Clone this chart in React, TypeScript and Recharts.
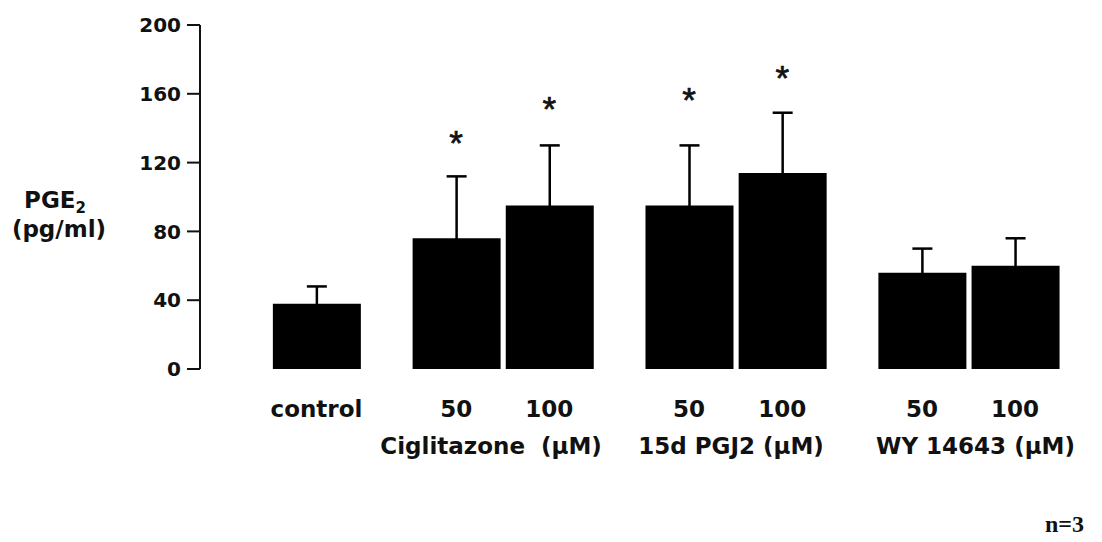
import { ComposedChart, Bar, XAxis, YAxis, ErrorBar, Scatter, Label } from "recharts";

// treatment columns, left to right
const labels = ["control", "50", "100", "50", "100", "50", "100"];
const slots = [0, 3, 5, 8, 10, 13, 15];
const means = [38, 76, 95, 95, 114, 56, 60];
const sds = [10, 36, 35, 35, 35, 14, 16];

// drug group captions under the dose labels
const groups = ["Ciglitazone  (µM)", "15d PGJ2 (µM)", "WY 14643 (µM)"];
const groupSlots = [3.75, 8.9, 14.15];

// significance asterisks (slot, height in pg/ml)
const starSlots = [3, 5, 8, 10];
const starHeights = [136, 156, 161, 174];

const yTicks = [0, 40, 80, 120, 160, 200];

// only the upper whisker shows; the lower end stays tucked inside the black bar
const data = slots.map((pos, i) => ({
  pos,
  label: labels[i],
  mean: means[i],
  err: [2, sds[i]],
}));

const stars = starSlots.map((pos, i) => ({ pos, h: starHeights[i] }));

const FONT = "'DejaVu Sans', Arial, sans-serif";

function DoseTick({ x, y, payload }: any) {
  const i = slots.indexOf(payload.value);
  return (
    <text x={x} y={y + 48} textAnchor="middle" fontFamily={FONT} fontWeight="bold" fontSize={23} fill="#111">
      {labels[i]}
    </text>
  );
}

function GroupTick({ x, y, payload }: any) {
  const i = groupSlots.indexOf(payload.value);
  return (
    <text x={x} y={y + 25} textAnchor="middle" fontFamily={FONT} fontWeight="bold" fontSize={23} fill="#111"
      style={{ whiteSpace: "pre" }}>
      {groups[i]}
    </text>
  );
}

function YTitle({ viewBox }: any) {
  const cx = viewBox.x + 59;
  return (
    <text x={cx} textAnchor="middle" fontFamily={FONT} fontWeight="bold" fontSize={23} fill="#111">
      <tspan x={cx - 4} y={208}>PGE</tspan>
      <tspan fontSize={15} dy={5}>2</tspan>
      <tspan x={cx} y={237}>(pg/ml)</tspan>
    </text>
  );
}

function Star({ cx, cy }: any) {
  return (
    <text x={cx} y={cy + 20} textAnchor="middle" fontFamily="'Liberation Sans', Arial, sans-serif" fontSize={35}
      fill="#111" stroke="#111" strokeWidth={0.7}>
      *
    </text>
  );
}

export default function App() {
  return (
    <div style={{ position: "absolute", left: 0, top: 0, width: 1102, height: 542, background: "#fff" }}>
      <ComposedChart width={1102} height={542} data={data} margin={{ top: 25, right: 17, bottom: 63, left: 0 }}>
        <XAxis
          dataKey="pos"
          type="number"
          domain={[-2.5, 16.5]}
          ticks={slots}
          interval={0}
          axisLine={false}
          tickLine={false}
          tickSize={0}
          tickMargin={0}
          height={60}
          tick={<DoseTick />}
        />
        <XAxis
          xAxisId="group"
          dataKey="pos"
          type="number"
          domain={[-2.5, 16.5]}
          ticks={groupSlots}
          interval={0}
          axisLine={false}
          tickLine={false}
          tickSize={0}
          tickMargin={0}
          height={50}
          tick={<GroupTick />}
        />
        <YAxis
          width={200}
          domain={[0, 200]}
          ticks={yTicks}
          interval={0}
          tickSize={13}
          tickMargin={6}
          axisLine={{ stroke: "#111", strokeWidth: 2 }}
          tickLine={{ stroke: "#111", strokeWidth: 2 }}
          tick={{ fill: "#111", fontSize: 20, fontWeight: "bold", fontFamily: FONT }}
        >
          <Label content={<YTitle />} />
        </YAxis>
        <Bar dataKey="mean" fill="#000" barSize={88} isAnimationActive={false}>
          <ErrorBar dataKey="err" direction="y" width={10} stroke="#000" strokeWidth={2.5} />
        </Bar>
        <Scatter data={stars} dataKey="h" shape={<Star />} isAnimationActive={false} />
      </ComposedChart>
      <div
        style={{
          position: "absolute",
          right: 18,
          top: 511,
          fontFamily: "'Liberation Serif', 'Times New Roman', serif",
          fontWeight: "bold",
          fontSize: 24,
          lineHeight: "26px",
          color: "#111",
        }}
      >
        n=3
      </div>
    </div>
  );
}
